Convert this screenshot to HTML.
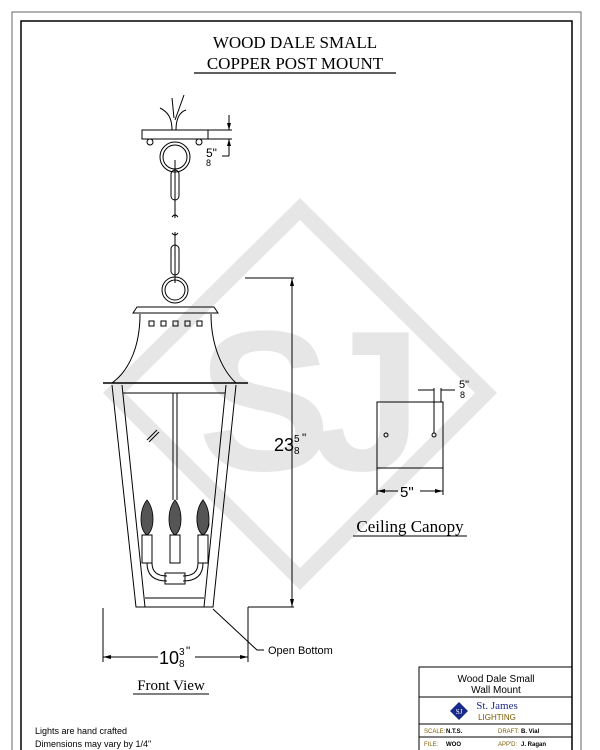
<!DOCTYPE html>
<html><head><style>
html,body{margin:0;padding:0;background:#fff;width:600px;height:750px;overflow:hidden}
svg{display:block}
.t{font-family:"Liberation Serif",serif}
.s{font-family:"Liberation Sans",sans-serif}
</style></head><body>
<svg width="600" height="750" viewBox="0 0 600 750" xmlns="http://www.w3.org/2000/svg">
<!-- borders -->
<polyline points="12,750 12,12 581,12 581,750" fill="none" stroke="#666" stroke-width="1"/>
<polyline points="21,750 21,21 572,21 572,750" fill="none" stroke="#000" stroke-width="1.5"/>
<!-- watermark -->
<path d="M300,198 L497,393 L300,590 L103,393 Z M300,220 L475,393 L300,568 L125,393 Z" fill="#e6e6e6" fill-rule="evenodd"/>
<text x="300" y="470" text-anchor="middle" class="s" font-size="200" font-weight="bold" fill="#e6e6e6" letter-spacing="-20">SJ</text>
<!-- title -->
<text x="295" y="48" text-anchor="middle" class="t" font-size="17">WOOD DALE SMALL</text>
<text x="295" y="69" text-anchor="middle" class="t" font-size="17">COPPER POST MOUNT</text>
<line x1="194" y1="73" x2="396" y2="73" stroke="#000" stroke-width="1.2"/>
<g fill="none" stroke="#000" stroke-width="1">
<!-- top canopy -->
<path d="M172,130 C172,118 168,112 160,108 M176,130 C176,118 180,112 186,110 M174,118 L172,98 M175,120 L184,95"/>
<rect x="142" y="130" width="66" height="9"/>
<line x1="208" y1="130" x2="232" y2="130"/><line x1="208" y1="139" x2="232" y2="139"/>
<line x1="229" y1="115" x2="229" y2="130"/><line x1="229" y1="139" x2="229" y2="156"/><line x1="229" y1="156" x2="222" y2="156"/>
<circle cx="150" cy="142" r="3"/><circle cx="199" cy="142" r="3"/>
<circle cx="175" cy="157" r="15"/><circle cx="175" cy="157" r="12"/>
<rect x="171" y="170" width="8" height="30" rx="4"/><line x1="175" y1="160" x2="175" y2="218"/>
<path d="M172,217 q3,-4 6,0"/>
<path d="M172,233 q3,4 6,0"/>
<rect x="171" y="245" width="8" height="30" rx="4"/><line x1="175" y1="232" x2="175" y2="283"/>
<circle cx="175" cy="290" r="13"/><circle cx="175" cy="290" r="10"/>
<!-- lantern roof -->
<path d="M133,313 L137,307 L214,307 L218,313 Z"/>
<path d="M140,314 C140,345 130,370 112,383 M211,314 C211,345 222,370 236,383"/>
<rect x="149" y="321" width="5" height="5"/><rect x="161" y="321" width="5" height="5"/><rect x="173" y="321" width="5" height="5"/><rect x="185" y="321" width="5" height="5"/><rect x="197" y="321" width="5" height="5"/>
<line x1="103" y1="383" x2="248" y2="383" stroke-width="1.5"/>
<!-- body -->
<path d="M112,385 L136,607 L213,607 L236,385"/>
<path d="M122,385 L145,607 M226,385 L204,607"/>
<line x1="123" y1="393" x2="225" y2="393"/>
<line x1="145" y1="598" x2="204" y2="598"/>
<line x1="173" y1="393" x2="173" y2="500"/><line x1="177" y1="393" x2="177" y2="500"/>
<path d="M147,440 l10,-10 M149,442 l10,-10"/>
<rect x="142" y="535" width="10" height="28"/><rect x="170" y="535" width="10" height="28"/><rect x="198" y="535" width="10" height="28"/>
<path d="M147,563 q0,18 20,18 M203,563 q0,18 -20,18 M152,563 q0,13 15,13 M198,563 q0,13 -15,13"/>
<rect x="165" y="573" width="20" height="11"/>
</g>
<g fill="#555" stroke="#000" stroke-width="0.8">
<path d="M147,500 C139,510 139,530 147,535 C155,530 155,510 147,500Z"/>
<path d="M175,500 C167,510 167,530 175,535 C183,530 183,510 175,500Z"/>
<path d="M203,500 C195,510 195,530 203,535 C211,530 211,510 203,535Z"/>
<path d="M203,500 C195,510 195,530 203,535 C211,530 211,510 203,500Z"/>
</g>
<!-- dimensions -->
<g fill="none" stroke="#000" stroke-width="1">
<line x1="245" y1="278" x2="294" y2="278"/>
<line x1="292" y1="278" x2="292" y2="607"/>
<line x1="248" y1="607" x2="294" y2="607"/>
<line x1="248" y1="607" x2="248" y2="662"/>
<line x1="103" y1="608" x2="103" y2="662"/>
<line x1="103" y1="657" x2="158" y2="657"/><line x1="195" y1="657" x2="248" y2="657"/>
<path d="M213,609 L257,650 L264,650"/>
<!-- canopy -->
<rect x="377" y="402" width="66" height="66"/>
<line x1="377" y1="468" x2="377" y2="495"/><line x1="443" y1="468" x2="443" y2="495"/>
<line x1="377" y1="491" x2="398" y2="491"/><line x1="420" y1="491" x2="443" y2="491"/>
<circle cx="386" cy="435" r="2"/><circle cx="434" cy="435" r="2"/>
<line x1="434" y1="388" x2="434" y2="433"/><line x1="441" y1="388" x2="441" y2="402"/>
<line x1="418" y1="390" x2="434" y2="390"/><line x1="441" y1="390" x2="455" y2="390"/>
</g>
<g fill="#000">
<path d="M292,278 l-2,8 h4z"/><path d="M292,607 l-2,-8 h4z"/>
<path d="M103,657 l8,-2 v4z"/><path d="M248,657 l-8,-2 v4z"/>
<path d="M377,491 l8,-2 v4z"/><path d="M443,491 l-8,-2 v4z"/>
<path d="M229,130 l-2,-7 h4z"/><path d="M229,139 l-2,7 h4z"/>
</g>
<text x="274" y="451" class="s" font-size="18">23</text><text x="294" y="442" class="s" font-size="10">5</text><text x="294" y="454" class="s" font-size="10">8</text><text x="302" y="442" class="s" font-size="12">"</text>
<text x="159" y="664" class="s" font-size="18">10</text><text x="179" y="655" class="s" font-size="10">3</text><text x="179" y="667" class="s" font-size="10">8</text><text x="186" y="655" class="s" font-size="12">"</text>
<text x="206" y="157" class="s" font-size="12">5"</text><text x="206" y="166" class="s" font-size="9">8</text>
<text x="459" y="388" class="s" font-size="11">5"</text><text x="460" y="398" class="s" font-size="9">8</text>
<text x="400" y="497" class="s" font-size="15">5"</text>
<text x="268" y="654" class="s" font-size="11">Open Bottom</text>
<text x="410" y="532" text-anchor="middle" class="t" font-size="17">Ceiling Canopy</text>
<line x1="353" y1="536" x2="467" y2="536" stroke="#000"/>
<text x="171" y="690" text-anchor="middle" class="t" font-size="15">Front View</text>
<line x1="133" y1="694" x2="209" y2="694" stroke="#000"/>
<text x="35" y="734" class="s" font-size="9">Lights are hand crafted</text>
<text x="35" y="747" class="s" font-size="9">Dimensions may vary by 1/4"</text>
<!-- title block -->
<g fill="none" stroke="#000" stroke-width="1">
<rect x="419" y="667" width="153" height="90"/>
<line x1="419" y1="697" x2="572" y2="697"/><line x1="419" y1="724" x2="572" y2="724"/><line x1="419" y1="737" x2="572" y2="737"/>
</g>
<text x="496" y="682" text-anchor="middle" class="s" font-size="10">Wood Dale Small</text>
<text x="496" y="693" text-anchor="middle" class="s" font-size="10">Wall Mount</text>
<path d="M459,702 l9,9 l-9,9 l-9,-9z" fill="#1a2a8a"/>
<text x="459" y="714" text-anchor="middle" class="t" font-size="7" fill="#fff">SJ</text>
<text x="497" y="709" text-anchor="middle" class="t" font-size="11" fill="#1a2a8a">St. James</text>
<text x="497" y="720" text-anchor="middle" class="s" font-size="8" fill="#7a5a00">LIGHTING</text>
<text x="424" y="733" class="s" font-size="6" fill="#7a5a00">SCALE:</text><text x="446" y="733" class="s" font-size="6" font-weight="bold">N.T.S.</text>
<text x="498" y="733" class="s" font-size="6" fill="#7a5a00">DRAFT:</text><text x="521" y="733" class="s" font-size="6" font-weight="bold">B. Vial</text>
<text x="424" y="746" class="s" font-size="6" fill="#7a5a00">FILE:</text><text x="446" y="746" class="s" font-size="6" font-weight="bold">WOO</text>
<text x="498" y="746" class="s" font-size="6" fill="#7a5a00">APP'D:</text><text x="521" y="746" class="s" font-size="6" font-weight="bold">J. Ragan</text>
</svg>
</body></html>
